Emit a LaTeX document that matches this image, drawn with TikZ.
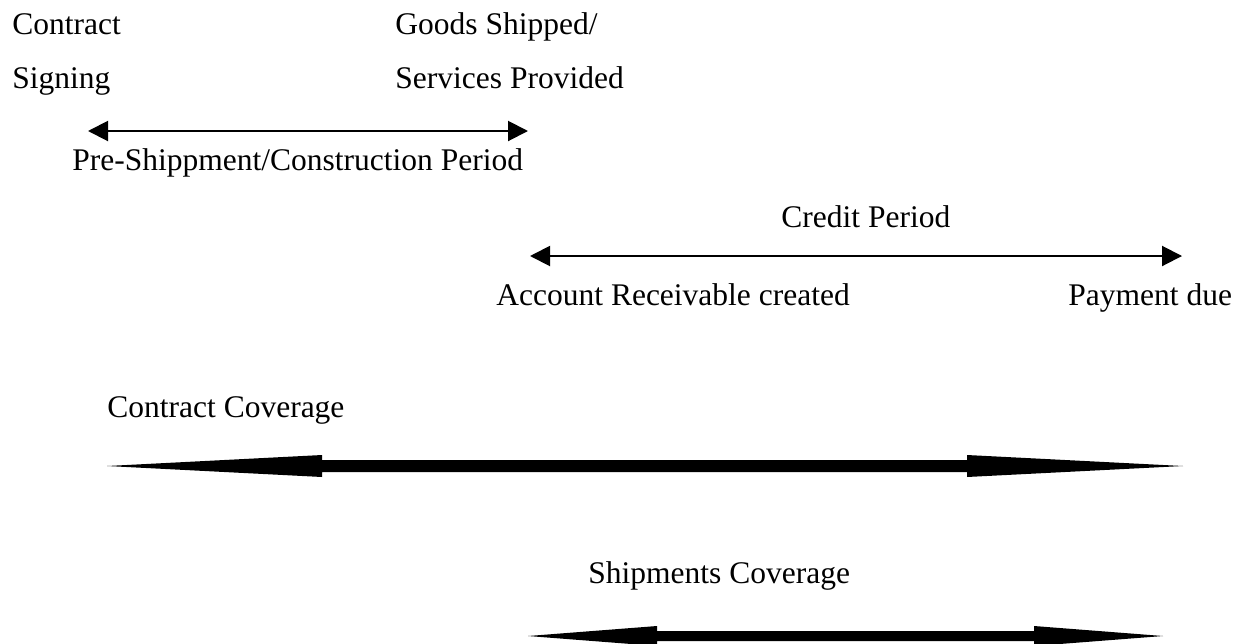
\documentclass[tikz,border=0pt]{standalone}
\usepackage{fontspec}
\setmainfont{Liberation Serif}
\usetikzlibrary{arrows.meta}
\begin{document}
\begin{tikzpicture}[x=0.5pt,y=-0.5pt,
  lbl/.style={anchor=base west,inner sep=0pt,font=\fontsize{15.75}{18}\selectfont},
  thin/.style={line width=1pt,{Triangle[length=10pt,width=10pt]}-{Triangle[length=10pt,width=10pt]}},
  thick/.style={fill=black,draw=none}]
\useasboundingbox (0,0) rectangle (1245,643);
% labels
\node[lbl] (cs1) at (12,34) {Contract};
\node[lbl] (cs2) at (12,88) {Signing};
\node[lbl] (gs1) at (395,34) {Goods Shipped/};
\node[lbl] (gs2) at (395,88) {Services Provided};
\node[lbl] (pre) at (72,170) {Pre-Shippment/Construction Period};
\node[lbl] (cp) at (781,227) {Credit Period};
\node[lbl] (ar) at (496,305) {Account Receivable created};
\node[lbl] (pd) at (1068,305) {Payment due};
\node[lbl] (cc) at (107,417) {Contract Coverage};
\node[lbl] (sc) at (588,583) {Shipments Coverage};
% thin arrows
\coordinate (a1l) at (88,131);
\coordinate (a1r) at (528,131);
\draw[thin] (a1l) -- (a1r);
\coordinate (a2l) at (530,256);
\coordinate (a2r) at (1182,256);
\draw[thin] (a2l) -- (a2r);
% thick arrow: contract coverage
\fill[thick] (107,466) -- (322,455) -- (322,460) -- (967,460) -- (967,455) -- (1183,466)
  -- (967,477) -- (967,472) -- (322,472) -- (322,477) -- cycle;
% thick arrow: shipments coverage
\fill[thick] (528,636) -- (657,626) -- (657,631) -- (1034,631) -- (1034,626) -- (1163,636)
  -- (1034,646) -- (1034,641) -- (657,641) -- (657,646) -- cycle;
\end{tikzpicture}
\end{document}
